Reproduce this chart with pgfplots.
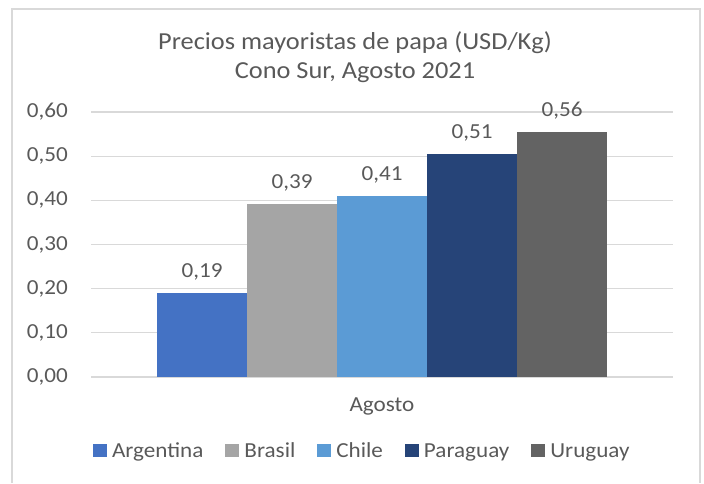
\documentclass[border=0pt]{standalone}
\usepackage{fontspec}
\setmainfont{Carlito}[FakeStretch=1.08]
\usepackage{pgfplots}
\pgfplotsset{compat=1.18}
\definecolor{txt}{HTML}{595959}
\definecolor{grd}{HTML}{D9D9D9}
\definecolor{cA}{HTML}{4472C4}
\definecolor{cB}{HTML}{A5A5A5}
\definecolor{cC}{HTML}{5B9BD5}
\definecolor{cP}{HTML}{264478}
\definecolor{cU}{HTML}{636363}
\pgfplotsset{mybar/.style={fill=#1, draw=none,
  legend image code/.code={\fill[fill=#1] (0bp,-6.5bp) rectangle (14bp,6.5bp);}}}
\begin{document}
\begin{tikzpicture}[x=1bp,y=1bp]
\path (0,0) rectangle (704,-483);
\draw[grd, line width=1.2bp] (12,-483) -- (12,-9) -- (700,-9) -- (700,-483);
\node[text=txt, font=\fontsize{24.5}{29}\selectfont, align=center] at (355,-57) {Precios mayoristas de papa (USD/Kg)\\Cono Sur, Agosto 2021};
\begin{axis}[
  at={(91bp,-377bp)}, anchor=south west,
  scale only axis, width=582bp, height=265bp,
  ybar=0pt, bar width=90bp,
  xmin=-1, xmax=1, ymin=0, ymax=0.6,
  xtick={0}, xticklabels={Agosto},
  ytick={0,0.1,0.2,0.3,0.4,0.5,0.6},
  major tick length=0pt,
  ymajorgrids, grid style={grd, line width=1.2bp},
  axis x line*=bottom, axis y line*=left,
  x axis line style={grd, line width=1.2bp, -},
  y axis line style={draw=none},
  /pgf/number format/.cd, fixed, fixed zerofill, precision=2, use comma, assume math mode=true,
  /pgfplots/.cd,
  tick label style={text=txt, font=\fontsize{21.5}{25}\selectfont},
  yticklabel style={anchor=east, inner sep=0pt, xshift=-23bp},
  xticklabel style={anchor=base, inner sep=0pt, yshift=-34bp},
  yticklabel={\pgfmathprintnumber{\tick}},
  point meta=explicit symbolic,
  nodes near coords,
  every node near coord/.append style={text=txt, font=\fontsize{21.5}{25}\selectfont, anchor=base, inner sep=0pt, yshift=16bp},
  legend columns=5,
  legend style={at={(-0.002,-0.279)}, anchor=west, draw=none, fill=none,
    font=\fontsize{21.5}{25}\selectfont, text=txt,
    /tikz/every odd column/.append style={column sep=5bp},
    /tikz/every even column/.append style={column sep=22bp},
    nodes={inner sep=0pt}},
]
\addplot[mybar=cA] coordinates {(0,0.19) [0,19]};
\addplot[mybar=cB] coordinates {(0,0.391) [0,39]};
\addplot[mybar=cC] coordinates {(0,0.409) [0,41]};
\addplot[mybar=cP] coordinates {(0,0.504) [0,51]};
\addplot[mybar=cU] coordinates {(0,0.554) [0,56]};
\legend{Argentina,Brasil,Chile,Paraguay,Uruguay}
\end{axis}
\end{tikzpicture}
\end{document}
